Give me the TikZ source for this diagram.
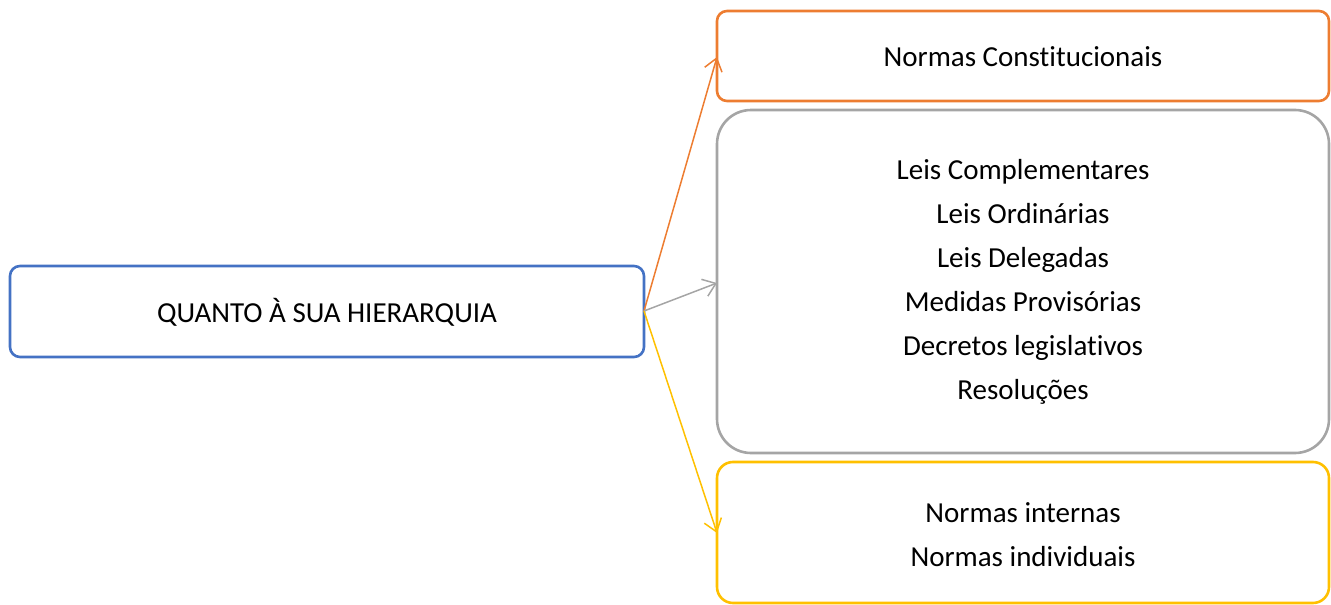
\documentclass[tikz,border=0pt]{standalone}
\usepackage{fontspec}
\setmainfont{Carlito}[Ligatures=NoCommon]
\usetikzlibrary{arrows.meta}
\definecolor{cblue}{HTML}{4472C4}
\definecolor{corange}{HTML}{ED7D31}
\definecolor{cgray}{HTML}{A5A5A5}
\definecolor{cyellow}{HTML}{FFC000}
\begin{document}
\begin{tikzpicture}[x=1pt,y=-1pt,
  boxstyle/.style={line width=2.6pt},
  conn/.style={line width=1.5pt,-{Straight Barb[length=12pt,width=18pt,line width=1.5pt]}},
  lbl/.style={font=\fontsize{29}{44}\selectfont,align=center,text=black}]
\useasboundingbox (0,0) rectangle (1331,605);
% boxes
\draw[boxstyle,cblue,rounded corners=10pt] (10,266) rectangle (644,357);
\draw[boxstyle,corange,rounded corners=10pt] (717,11) rectangle (1329,101);
\draw[boxstyle,cgray,rounded corners=34pt] (717,110) rectangle (1329,453);
\draw[boxstyle,cyellow,rounded corners=16pt] (717,462) rectangle (1329,603);
% named anchors
\coordinate (src) at (644,311);
\coordinate (torange) at (717,57);
\coordinate (tgray) at (717,283);
\coordinate (tyellow) at (717,533);
% labels
\node[lbl] (main) at (327,312) {QUANTO À SUA HIERARQUIA};
\node[lbl] (nc) at (1023,57) {Normas Constitucionais};
\node[lbl] (leis) at (1023,282) {Leis Complementares\\Leis Ordinárias\\Leis Delegadas\\Medidas Provisórias\\Decretos legislativos\\Resoluções};
\node[lbl] (ni) at (1023,535) {Normas internas\\Normas individuais};
% connectors
\draw[conn,corange] (src) -- (torange);
\draw[conn,cgray] (src) -- (tgray);
\draw[conn,cyellow] (src) -- (tyellow);
\end{tikzpicture}
\end{document}
